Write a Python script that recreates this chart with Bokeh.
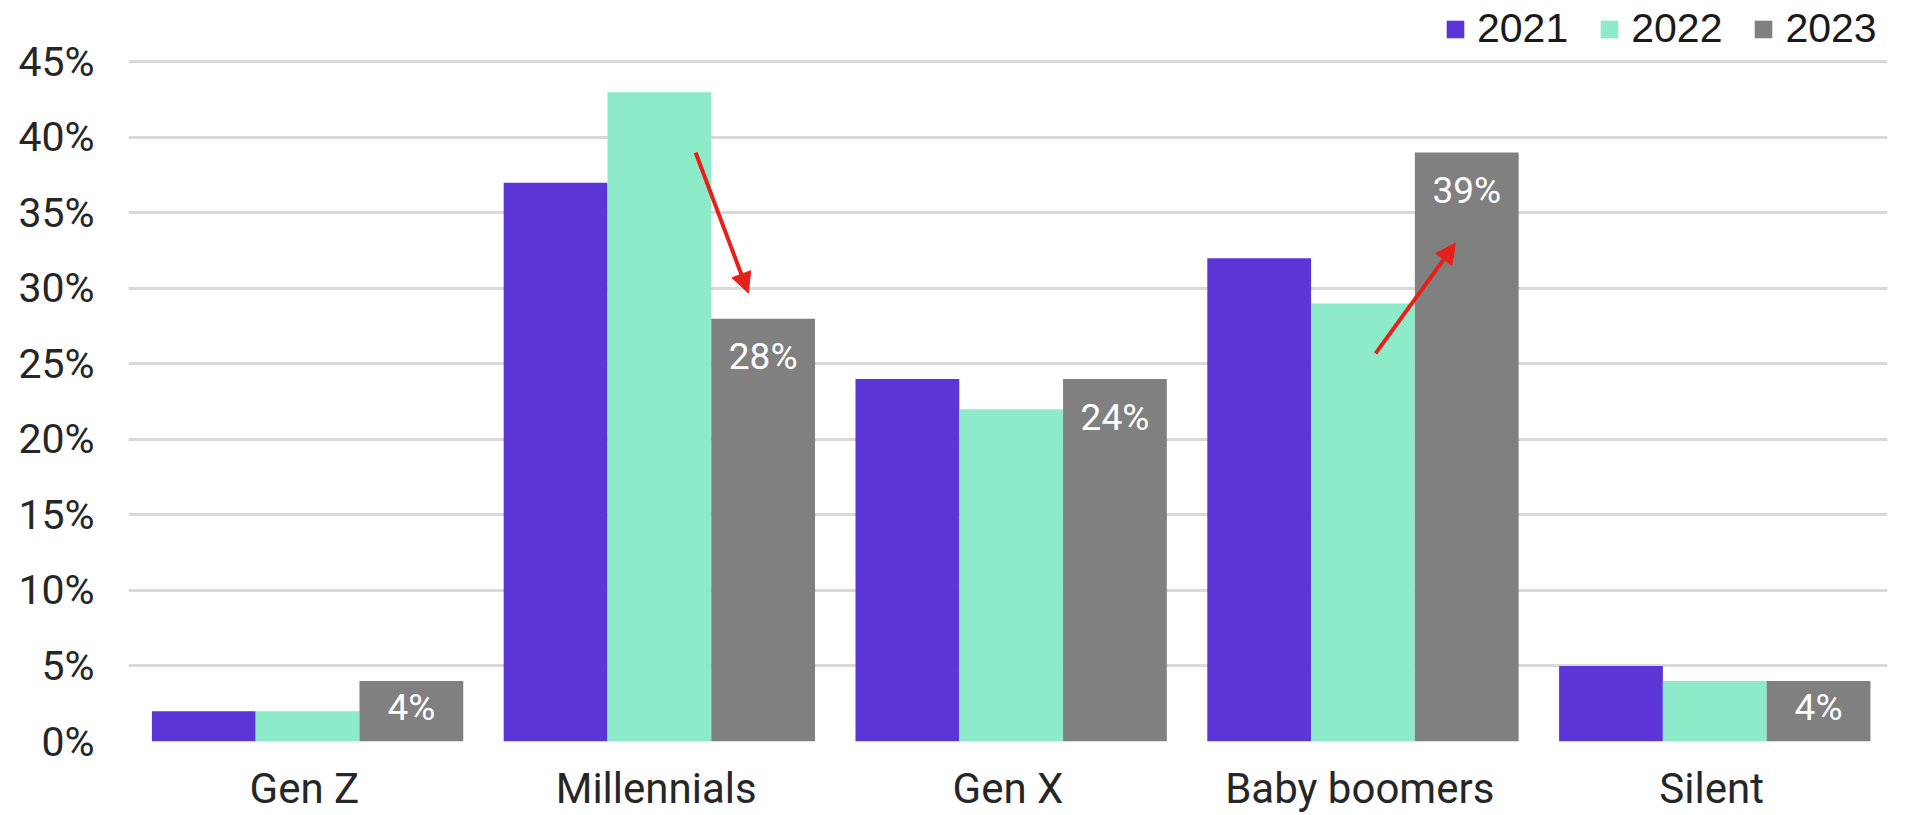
from bokeh.plotting import figure
from bokeh.models import (ColumnDataSource, FixedTicker, Range1d, Legend, LegendItem,
                          Arrow, NormalHead, PrintfTickFormatter, LabelSet)
from bokeh.core.properties import value
from bokeh.embed import file_html
from bokeh.resources import INLINE

# ---------------- data ----------------
categories = ["Gen Z", "Millennials", "Gen X", "Baby boomers", "Silent"]
years = ["2021", "2022", "2023"]
v2021 = [2, 37, 24, 32, 5]
v2022 = [2, 43, 22, 29, 4]
v2023 = [4, 28, 24, 39, 4]
labels2023 = ["4%", "28%", "24%", "39%", "4%"]
y_ticks = [0, 5, 10, 15, 20, 25, 30, 35, 40, 45]

# trend arrows (annotations): category index + offset, value in %
arrow_cat = [1, 3]
arrow_dx_start = [0.112, 0.045]
arrow_dx_end = [0.262, 0.272]
arrow_y_start = [39.0, 25.7]
arrow_y_end = [29.7, 33.0]

colors = ["#5B35D5", "#8EEBCA", "#808080"]

# ---------------- figure ----------------
# the frame reaches the top of the canvas so that the legend (top right) is not clipped;
# 45 % still sits ~62 px below the top
p = figure(width=1921, height=815, x_range=Range1d(0, 5), y_range=Range1d(0, 49.07),
           output_backend="svg", toolbar_location=None,
           min_border_left=128, min_border_right=34, min_border_top=0, min_border_bottom=67)
p.outline_line_color = None
p.background_fill_color = "white"
p.border_fill_color = "white"

bw = 0.295
shift = 0.009
series = [v2021, v2022, v2023]
renderers = []
for j, vals in enumerate(series):
    xs = [i + 0.5 + shift + (j - 1) * bw for i in range(len(categories))]
    src = ColumnDataSource(dict(x=xs, top=vals))
    r = p.vbar(x="x", top="top", width=bw, source=src, fill_color=colors[j], line_color=None)
    renderers.append(r)

# value labels inside the 2023 bars
lx = [i + 0.5 + shift + bw for i in range(len(categories))]
loff = [-38 if v > 10 else -26 for v in v2023]
lsrc = ColumnDataSource(dict(x=lx, y=v2023, text=labels2023, off=loff))
p.add_layout(LabelSet(x="x", y="y", text="text", y_offset="off", source=lsrc,
                      text_align="center", text_baseline="middle",
                      text_color="white", text_font=value("Roboto"), text_font_size="37px"))

# arrows
asrc = ColumnDataSource(dict(
    x0=[c + 0.5 + d for c, d in zip(arrow_cat, arrow_dx_start)],
    x1=[c + 0.5 + d for c, d in zip(arrow_cat, arrow_dx_end)],
    y0=arrow_y_start, y1=arrow_y_end))
p.add_layout(Arrow(x_start="x0", y_start="y0", x_end="x1", y_end="y1", source=asrc,
                   line_color="#E8201A", line_width=4,
                   end=NormalHead(size=20, fill_color="#E8201A", line_color="#E8201A")))

# axes
p.xgrid.visible = False
p.ygrid.ticker = FixedTicker(ticks=y_ticks)
p.ygrid.grid_line_color = "#D9D9D9"
p.ygrid.grid_line_width = 3

p.yaxis.ticker = FixedTicker(ticks=y_ticks)
p.yaxis.formatter = PrintfTickFormatter(format="%d%%")
p.yaxis.axis_line_color = None
p.yaxis.major_tick_line_color = None
p.yaxis.minor_tick_line_color = None
p.yaxis.major_label_text_font = "Roboto"
p.yaxis.major_label_text_font_size = "41px"
p.yaxis.major_label_text_color = "#262626"
p.yaxis.major_label_standoff = 28

p.xaxis.ticker = FixedTicker(ticks=[i + 0.5 for i in range(len(categories))])
p.xaxis.major_label_overrides = {i + 0.5: c for i, c in enumerate(categories)}
p.xaxis.axis_line_color = None
p.xaxis.major_tick_line_color = None
p.xaxis.minor_tick_line_color = None
p.xaxis.major_label_text_font = "Roboto"
p.xaxis.major_label_text_font_size = "42px"
p.xaxis.major_label_text_color = "#262626"
p.xaxis.major_label_standoff = 16

# legend at the top right, above the 45 % gridline
legend = Legend(items=[LegendItem(label=y, renderers=[r]) for y, r in zip(years, renderers)],
                orientation="horizontal", location=(1316, 689),
                glyph_width=22, glyph_height=22, label_standoff=11, spacing=30,
                label_text_font="Liberation Sans", label_text_font_size="41px",
                label_text_color="#1a1a1a", padding=0, margin=0,
                background_fill_alpha=0, border_line_alpha=0)
p.add_layout(legend)

open("out.html", "w").write(file_html(p, INLINE))
